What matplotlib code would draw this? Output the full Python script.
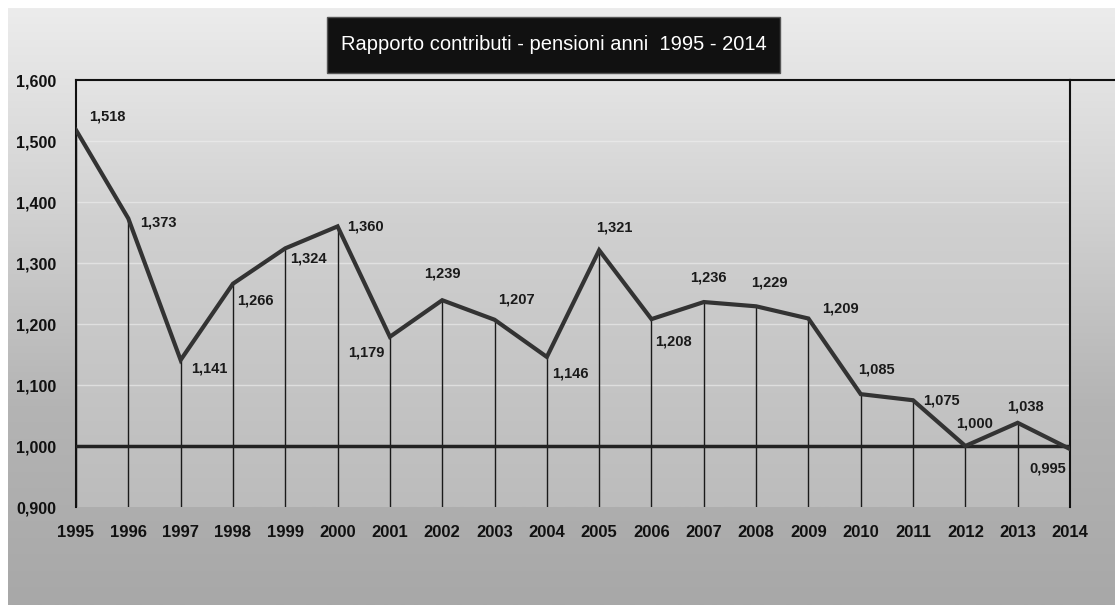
import numpy as np
import matplotlib
matplotlib.use("Agg")
import matplotlib.pyplot as plt
from matplotlib.lines import Line2D
from matplotlib.patches import Rectangle

# ---- data ----
years = list(range(1995, 2015))
ratio = [1.518, 1.373, 1.141, 1.266, 1.324, 1.360, 1.179, 1.239, 1.207, 1.146,
         1.321, 1.208, 1.236, 1.229, 1.209, 1.085, 1.075, 1.000, 1.038, 0.995]
yticks = [0.9, 1.0, 1.1, 1.2, 1.3, 1.4, 1.5, 1.6]
title = "Rapporto contributi - pensioni anni  1995 - 2014"

# label placement (pixel offsets from each point)
label_dx = [31, 30, 29, 22, 23, 28, -24, 0, 22, 24, 15, 22, 5, 13, 32, 16, 28, 9, 8, -22]
label_dy = [14, -4, -9, -17, -10, 0, -16, 27, 20, -17, 23, -22, 25, 24, 10, 25, 0, 23, 16, -19]

plt.rcParams['font.family'] = ['Liberation Sans Narrow', 'Liberation Sans', 'DejaVu Sans']

W, H = 1115, 605
fig = plt.figure(figsize=(W / 100, H / 100), dpi=100)
fig.patch.set_facecolor('white')

# figure background gradient
bg = fig.add_axes([8 / W, 0, 1 - 8 / W, 1 - 8 / H])
bg.set_axis_off()
grad = np.linspace(0, 1, 256).reshape(-1, 1)
bg.imshow(grad, aspect='auto', cmap=matplotlib.colors.LinearSegmentedColormap.from_list(
    'g', ['#ececec', '#d2d2d2', '#b4b4b4', '#a8a8a8']), extent=[0, 1, 0, 1], zorder=0)

L, R, T, B = 76, 1070, 80, 507
ax = fig.add_axes([L / W, 1 - B / H, (R - L) / W, (B - T) / H])
ax.set_facecolor('none')
ax.imshow(grad, aspect='auto', cmap=matplotlib.colors.LinearSegmentedColormap.from_list(
    'p', ['#e4e4e4', '#d0d0d0', '#c6c6c6', '#bcbcbc']),
    extent=[0, 1, 0, 1], transform=ax.transAxes, zorder=0)

ax.set_xlim(years[0], years[-1])
ax.set_ylim(yticks[0], yticks[-1])

# faint horizontal gridlines
for v in yticks[1:-1]:
    ax.axhline(v, color='#f0f0f0', lw=1.0, alpha=0.6, zorder=1)

# drop lines
ax.vlines(years, yticks[0], ratio, color='#1a1a1a', lw=1.0, zorder=2)
# reference line at 1.0
ax.axhline(1.0, color='#222222', lw=2.5, zorder=3)
# main line
ax.plot(years, ratio, color='#333333', lw=3, zorder=4, solid_joinstyle='miter')

for x, v, dx, dy in zip(years, ratio, label_dx, label_dy):
    ax.annotate(f"{v:.3f}".replace('.', ','), (x, v), xytext=(dx, dy),
                textcoords='offset pixels', ha='center', va='center',
                fontsize=10.5, fontweight='bold', color='#1a1a1a', zorder=5,
                family=['Liberation Sans', 'DejaVu Sans'])

ax.set_xticks(years)
ax.set_xticklabels([str(y) for y in years], fontsize=12, fontweight='bold', color='#111111')
ax.set_yticks(yticks)
ax.set_yticklabels([f"{v:.3f}".replace('.', ',') for v in yticks], fontsize=11.5,
                   fontweight='bold', color='#111111', family=['Liberation Sans', 'DejaVu Sans'])
ax.tick_params(axis='both', length=0)
ax.tick_params(axis='x', pad=13)
ax.tick_params(axis='y', pad=14)

for s in ['left', 'top', 'right']:
    ax.spines[s].set_color('#111111')
    ax.spines[s].set_linewidth(1.5)
ax.spines['bottom'].set_visible(False)

# top line extends to the right edge
fig.add_artist(Line2D([R / W, 1.0], [1 - T / H, 1 - T / H], color='#111111', lw=1.5))

# title box
fig.add_artist(Rectangle((327 / W, 1 - 73 / H), (780 - 327) / W, (73 - 17) / H,
                         transform=fig.transFigure, facecolor='#111111', edgecolor='#555555', lw=1))
fig.text((327 + 780) / 2 / W, 1 - 45 / H, title, color='white', fontsize=14.5,
         ha='center', va='center', family=['Liberation Sans', 'DejaVu Sans'])

fig.savefig('out.png', dpi=100)
